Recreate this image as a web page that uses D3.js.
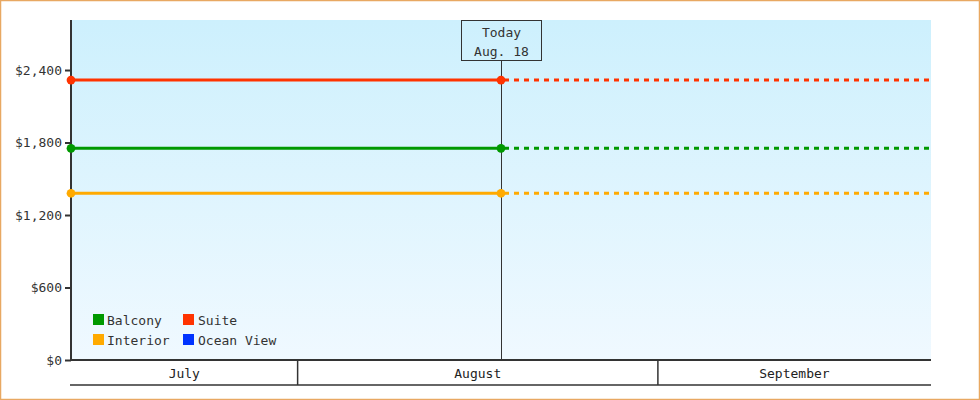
<!DOCTYPE html>
<html>
<head>
<meta charset="utf-8">
<script src="https://cdn.jsdelivr.net/npm/d3@7"></script>
<style>
html,body{margin:0;padding:0;background:#fff;}
svg{display:block;}
text{font-family:"DejaVu Sans Mono","Liberation Mono",monospace;}
</style>
</head>
<body>
<svg id="chart" width="980" height="400"></svg>
<script>
// ---- data ----
const seriesNames = ["Balcony", "Suite", "Interior", "Ocean View"];
const seriesColors = ["#009900", "#ff3300", "#ffaa00", "#0033ff"];
const seriesPrices = [1752, 2317, 1380, null]; // Ocean View: no data
const startDate = "2024-07-12T12:00:00";
const todayDate = "2024-08-18T12:00:00";
const endDate = "2024-09-24T12:00:00";
const todayLabel = ["Today", "Aug. 18"];
const monthNames = ["July", "August", "September"];
const monthStarts = ["2024-07-01", "2024-08-01", "2024-09-01", "2024-10-01"];
const yTicks = [0, 600, 1200, 1800, 2400];
const yMax = 2814;

// ---- layout ----
const W = 980, H = 400;
const m = {left: 71, right: 49, top: 20, bottom: 40};
const pw = W - m.left - m.right, ph = H - m.top - m.bottom;
const parse = d => new Date(d);

const svg = d3.select("#chart");

// outer border
svg.append("rect").attr("x", 0.5).attr("y", 0.5).attr("width", W - 1).attr("height", H - 1)
  .attr("fill", "#fff").attr("stroke", "#e8a862").attr("stroke-width", 1.5);

const defs = svg.append("defs");
const grad = defs.append("linearGradient").attr("id", "bg").attr("x1", 0).attr("y1", 0).attr("x2", 0).attr("y2", 1);
grad.append("stop").attr("offset", "0%").attr("stop-color", "#cdf0fd");
grad.append("stop").attr("offset", "100%").attr("stop-color", "#f0f9ff");

const g = svg.append("g").attr("transform", `translate(${m.left},${m.top})`);

const x = d3.scaleTime().domain([parse(startDate), parse(endDate)]).range([0, pw]);
const y = d3.scaleLinear().domain([0, yMax]).range([ph, 0]);

g.append("rect").attr("width", pw).attr("height", ph).attr("fill", "url(#bg)");

// y axis
const yAxis = d3.axisLeft(y).tickValues(yTicks).tickSize(6).tickPadding(3)
  .tickFormat(d => "$" + d3.format(",")(d));
const ya = g.append("g").call(yAxis);
ya.select(".domain").remove();
ya.selectAll(".tick line").attr("stroke", "#333").attr("stroke-width", 2);
ya.selectAll(".tick text").attr("fill", "#333").style("font-size", "13px");

// month band row
const [d0, d1] = x.domain();
const bandRow = g.append("g").attr("transform", `translate(0,${ph})`);
monthNames.forEach((name, i) => {
  const a = new Date(Math.max(parse(monthStarts[i]), d0));
  const b = new Date(Math.min(parse(monthStarts[i + 1]), d1));
  const xa = x(a), xb = x(b);
  if (i > 0) bandRow.append("line").attr("x1", xa).attr("x2", xa).attr("y1", 0).attr("y2", 25)
    .attr("stroke", "#333").attr("stroke-width", 1.5);
  bandRow.append("text").attr("x", (xa + xb) / 2).attr("y", 13).attr("dy", "0.35em")
    .attr("text-anchor", "middle").attr("fill", "#222").style("font-size", "13px").text(name);
});
bandRow.append("line").attr("x1", -1).attr("x2", pw).attr("y1", 25).attr("y2", 25)
  .attr("stroke", "#333").attr("stroke-width", 1.5);
bandRow.append("line").attr("x1", -1).attr("x2", pw).attr("y1", 0).attr("y2", 0)
  .attr("stroke", "#333").attr("stroke-width", 2);

// y axis line
g.append("line").attr("x1", 0).attr("x2", 0).attr("y1", 0).attr("y2", ph)
  .attr("stroke", "#333").attr("stroke-width", 2);

// today marker
const tx = Math.round(x(parse(todayDate))) + 0.5;
g.append("line").attr("x1", tx).attr("x2", tx).attr("y1", 41).attr("y2", ph)
  .attr("stroke", "#333").attr("stroke-width", 1);
g.append("rect").attr("x", tx - 40).attr("y", 0.5).attr("width", 80).attr("height", 40)
  .attr("fill", "none").attr("stroke", "#333").attr("stroke-width", 1);
todayLabel.forEach((t, i) => {
  g.append("text").attr("x", tx).attr("y", 12.5 + i * 19).attr("dy", "0.35em")
    .attr("text-anchor", "middle").attr("fill", "#333").style("font-size", "13px").text(t);
});

// series lines
const line = d3.line().x(d => x(d.date)).y(d => y(d.value));
seriesNames.forEach((name, i) => {
  const v = seriesPrices[i];
  if (v == null) return;
  const past = [{date: parse(startDate), value: v}, {date: parse(todayDate), value: v}];
  const future = [{date: parse(todayDate), value: v}, {date: parse(endDate), value: v}];
  g.append("path").datum(future).attr("d", line).attr("fill", "none")
    .attr("stroke", seriesColors[i]).attr("stroke-width", 3).attr("stroke-dasharray", "5,5")
    .attr("stroke-dashoffset", -3);
  g.append("path").datum(past).attr("d", line).attr("fill", "none")
    .attr("stroke", seriesColors[i]).attr("stroke-width", 3);
  g.selectAll(null).data(past).enter().append("path")
    .attr("transform", d => `translate(${x(d.date)},${y(d.value)})`)
    .attr("d", d3.symbol().type(d3.symbolCircle).size(60))
    .attr("fill", seriesColors[i]);
});

// legend
const leg = g.append("g").attr("transform", "translate(22,294)");
seriesNames.forEach((name, i) => {
  const col = i % 2, row = Math.floor(i / 2);
  const lg = leg.append("g").attr("transform", `translate(${col * 90},${row * 20})`);
  lg.append("rect").attr("width", 11).attr("height", 11).attr("fill", seriesColors[i]);
  lg.append("text").attr("x", col === 0 ? 14 : 15).attr("y", 6).attr("dy", "0.35em")
    .attr("fill", "#333").style("font-size", "13px").text(name);
});
</script>
</body>
</html>
